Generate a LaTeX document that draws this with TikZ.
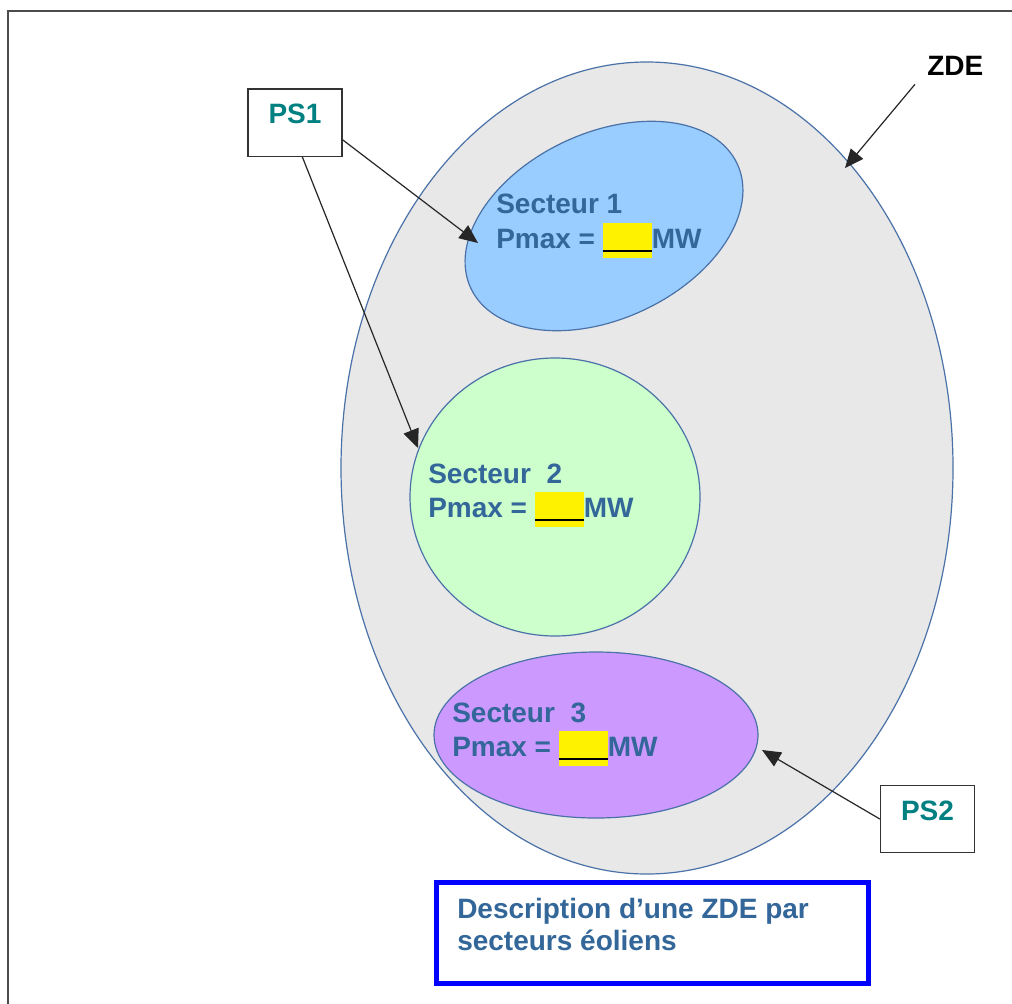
\documentclass[tikz,border=0pt]{standalone}
\usepackage{fontspec}
\setmainfont{Liberation Sans}
\usetikzlibrary{arrows.meta,calc}
\definecolor{zdefill}{RGB}{232,232,232}
\definecolor{edgeblue}{RGB}{74,114,168}
\definecolor{s1fill}{RGB}{153,204,255}
\definecolor{s2fill}{RGB}{204,255,204}
\definecolor{s3fill}{RGB}{204,153,255}
\definecolor{txtblue}{RGB}{51,102,153}
\definecolor{psteal}{RGB}{0,128,128}
\newcommand{\blankfield}{{\setlength{\fboxsep}{0pt}\colorbox{yellow}{\rule[-0.36em]{0pt}{1.27em}\textcolor{black}{\rule[-0.16em]{1.75em}{0.1em}}}}}
\begin{document}
\begin{tikzpicture}[x=0.75pt,y=-0.75pt,
  font=\fontsize{21}{25}\selectfont\bfseries,
  arr/.style={draw=black!85, line width=0.9pt, -{Triangle[length=14pt,width=12pt]}},
  zone/.style={draw=edgeblue, line width=0.9pt},
  lbl/.style={anchor=base west, inner sep=0pt, text=txtblue},
  psbox/.style={draw=black!80, line width=1pt, fill=white, minimum width=70.5pt, minimum height=50.5pt, text=psteal, text height=0.72em, text depth=0.54em, inner sep=0pt}]
\clip (0,0) rectangle (1012,1003);
\fill[white] (0,0) rectangle (1012,1003);
\draw[line width=1.5pt, draw=black!70] (8,1100) -- (8,11) -- (1100,11);
% zones
\draw[zone, fill=zdefill] (647,468) ellipse [x radius=306, y radius=406];
\draw[zone, fill=s1fill, rotate around={25:(604,226)}] (604,226) ellipse [x radius=147, y radius=93];
\draw[zone, fill=s2fill] (555,497) ellipse [x radius=145, y radius=139];
\draw[zone, fill=s3fill] (596,735) ellipse [x radius=162, y radius=83];
% arrow tips on zone borders
\coordinate (s1tip) at (478,243);
\coordinate (s2tip) at (418,448);
\coordinate (zdetip) at (845,168);
\coordinate (s3tip) at (762,750);
% labels in sectors
\node[lbl] (s1a) at (496,213) {Secteur 1};
\node[lbl] (s1b) at (496,248) {Pmax = \blankfield{}MW};
\node[lbl] (s2a) at (428,483) {Secteur\ \ 2};
\node[lbl] (s2b) at (428,517) {Pmax = \blankfield{}MW};
\node[lbl] (s3a) at (452,722) {Secteur\ \ 3};
\node[lbl] (s3b) at (452,756) {Pmax = \blankfield{}MW};
% boxes
\node[psbox] (ps1) at (295,122.5) {PS1};
\node[psbox] (ps2) at (927.5,819) {PS2};
\node[anchor=base west, inner sep=0pt] (zdelbl) at (927,75) {ZDE};
% connectors
\draw[arr] (ps1.-20) -- (s1tip);
\draw[arr] (ps1.-78) -- (s2tip);
\draw[arr] ([shift={(-12,9)}]zdelbl.south west) -- (zdetip);
\draw[arr] (ps2.west) -- (s3tip);
% caption box
\node[draw=blue, line width=3.75pt, minimum width=324pt, minimum height=75.75pt, inner sep=0pt] (cap) at (652.5,933) {};
\node[lbl] (capa) at (457,918) {Description d’une ZDE par};
\node[lbl] (capb) at (457,950) {secteurs éoliens};
\end{tikzpicture}
\end{document}
